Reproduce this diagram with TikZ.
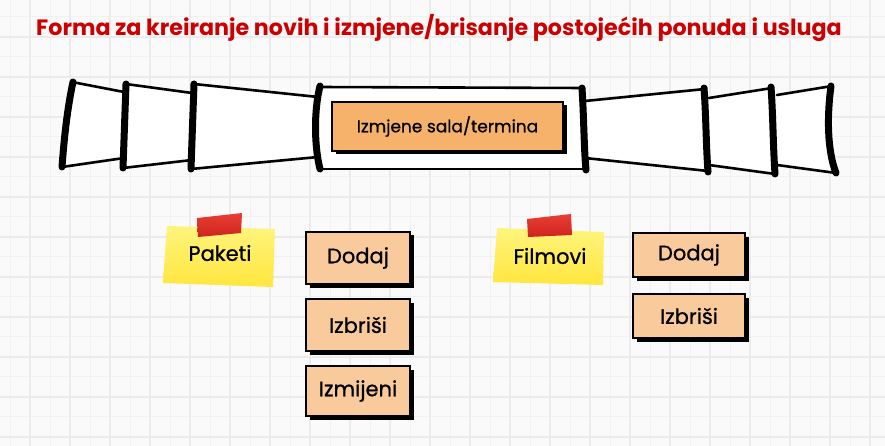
\documentclass[tikz,border=0pt]{standalone}
\usepackage{fontspec}
\setmainfont{Poppins}
\newfontfamily\medfont[FakeBold=0.8]{Poppins}
\usetikzlibrary{shadows}
\definecolor{bgc}{RGB}{250,250,250}
\definecolor{gridminor}{RGB}{241,241,241}
\definecolor{gridmajor}{RGB}{235,235,235}
\definecolor{titlered}{RGB}{204,0,0}
\definecolor{peach}{RGB}{249,203,156}
\definecolor{orangebtn}{RGB}{246,178,107}
\definecolor{noteA}{RGB}{255,244,125}
\definecolor{noteB}{RGB}{255,230,62}
\definecolor{tapeA}{RGB}{232,62,52}
\definecolor{tapeB}{RGB}{206,36,30}
\begin{document}
\begin{tikzpicture}[x=1pt,y=-1pt,
  rim/.style={line width=2.6pt, line cap=round},
  heavy/.style={line width=7pt, line cap=round},
  btnshadow/.style={drop shadow={shadow xshift=3.5pt, shadow yshift=-3.5pt, fill=black, opacity=1}},
  btn/.style={draw=black, line width=1.6pt, fill=peach, minimum width=104pt, minimum height=52pt, inner sep=0pt, font=\medfont\fontsize{21}{25}\selectfont, btnshadow},
  mainbtn/.style={draw=black, line width=1.6pt, fill=orangebtn, minimum width=231pt, minimum height=49pt, inner sep=0pt, font=\medfont\fontsize{17}{21}\selectfont, btnshadow},
  notetext/.style={font=\medfont\fontsize{21}{25}\selectfont, inner sep=0pt}
]
\useasboundingbox (0,0) rectangle (885,446);
\fill[bgc] (0,0) rectangle (885,446);
% grid
\foreach \i in {0,...,43} {\pgfmathsetmacro\xx{10+20*\i}
  \draw[gridminor, line width=1pt] (\xx,0) -- (\xx,446);}
\foreach \i in {0,...,22} {\pgfmathsetmacro\yy{16.7+20*\i}
  \draw[gridminor, line width=1pt] (0,\yy) -- (885,\yy);}
\foreach \i in {0,...,21} {\pgfmathsetmacro\xx{30+40*\i}
  \draw[gridmajor, line width=2pt] (\xx,0) -- (\xx,446);}
\foreach \i in {0,...,10} {\pgfmathsetmacro\yy{36.7+40*\i}
  \draw[gridmajor, line width=2pt] (0,\yy) -- (885,\yy);}

% title
\node[font=\bfseries\fontsize{22.2}{26}\selectfont, text=titlered] (title) at (439,28) {Forma za kreiranje novih i izmjene/brisanje postojećih ponuda i usluga};

% banner: left segments
\fill[white] (72,82) -- (124,92) -- (124,158) -- (62,167) -- cycle;
\draw[rim] (72,82) -- (124,92);
\draw[rim] (62,167) -- (124,158);
\draw[heavy] (73,82) .. controls (67,110) and (64,140) .. (62,167);

\fill[white] (126,84) -- (192,93) -- (192,160) -- (123,168) -- cycle;
\draw[rim] (126,84) -- (192,93);
\draw[rim] (123,168) -- (192,160);
\draw[heavy] (126,84) .. controls (125,112) and (124,140) .. (123,168);

\fill[white] (194,84) -- (318,97) -- (318,157) -- (191,169) -- cycle;
\draw[rim] (194,84) -- (318,97);
\draw[rim] (191,169) -- (318,157);
\draw[heavy] (194,84) .. controls (193,112) and (192,140) .. (191,169);

% banner: right segments
\fill[white] (777,95) -- (832,86) -- (836,173) -- (777,165) -- cycle;
\draw[rim] (777,95) -- (832,86);
\draw[rim] (777,165) -- (836,173);
\draw[heavy] (831,86) .. controls (827,115) and (827,150) .. (836,173);

\fill[white] (709,98) -- (772,88) -- (775,174) -- (709,165) -- cycle;
\draw[rim] (709,98) -- (772,88);
\draw[rim] (709,165) -- (775,174);
\draw[heavy] (771,87) .. controls (773,115) and (773,145) .. (775,174);

\fill[white] (585,101) -- (705,89) -- (708,171) -- (585,158) -- cycle;
\draw[rim] (585,101) -- (705,89);
\draw[rim] (585,158) -- (708,171);
\draw[heavy] (704,88) .. controls (706,115) and (706,145) .. (708,172);

% banner: centre
\fill[white] (318,86) rectangle (584,169);
\draw[rim] (318,87) -- (584,88);
\draw[rim] (318,169) -- (586,169);
\draw[heavy] (320,86) .. controls (314,110) and (314,145) .. (320,169);
\draw[heavy] (582,88) .. controls (584,120) and (584,150) .. (586,170);

\node[mainbtn] (izmjene) at (447.5,126.5) {Izmjene sala/termina};

% sticky note Paketi
\shade[top color=noteA, bottom color=noteB] (167,226) -- (275,229) -- (273,287) -- (163,283) -- cycle;
\shade[top color=tapeA, bottom color=tapeB] (197,218) -- (242,213) -- (241,233) -- (198,237) -- cycle;
\node[notetext] (paketi) at (220,253) {Paketi};

% sticky note Filmovi
\shade[top color=noteA, bottom color=noteB] (497,228) -- (604,232) -- (603,285) -- (493,282) -- cycle;
\shade[top color=tapeA, bottom color=tapeB] (527,219) -- (571,214) -- (572,235) -- (528,237) -- cycle;
\node[notetext] (filmovi) at (550,256) {Filmovi};

% buttons
\node[btn] (pDodaj) at (358,258) {Dodaj};
\node[btn] (pIzbrisi) at (358,325) {Izbriši};
\node[btn, minimum height=50pt] (pIzmijeni) at (358,391) {Izmijeni};
\node[btn, minimum width=112pt, minimum height=44pt] (fDodaj) at (689,255) {Dodaj};
\node[btn, minimum width=112pt, minimum height=44pt] (fIzbrisi) at (689,316) {Izbriši};
\end{tikzpicture}
\end{document}
